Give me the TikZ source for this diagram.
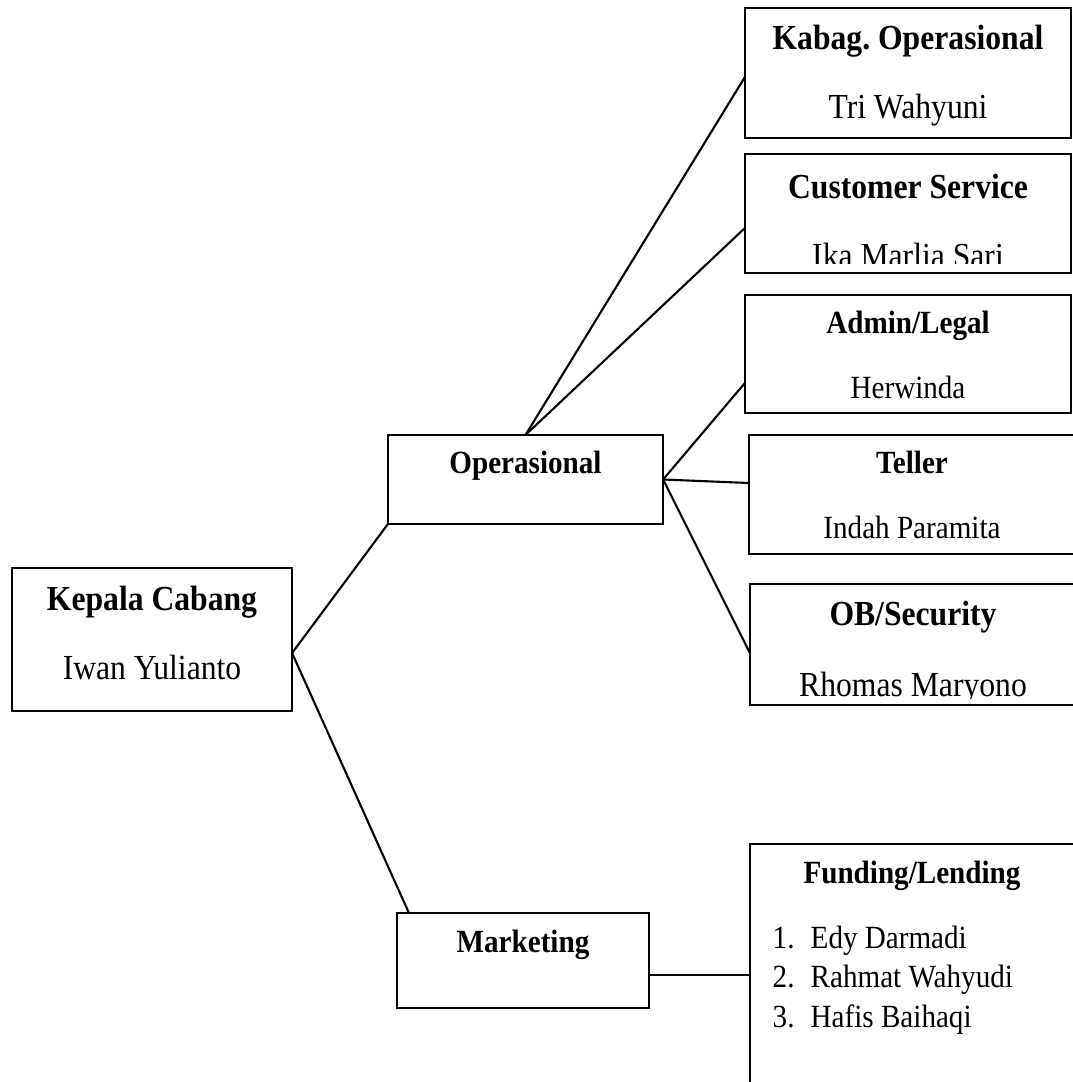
\documentclass[tikz,border=0pt]{standalone}
\usepackage{fontspec}
\setmainfont{Liberation Serif}[FakeStretch=0.9]
\frenchspacing
\begin{document}
\begin{tikzpicture}[x=0.01cm, y=-0.01cm,
  box/.style={draw, line width=0.75pt, rectangle, inner sep=0pt, outer sep=0pt},
  big/.style={font=\fontsize{10}{12}\selectfont\bfseries, anchor=base, inner sep=0pt},
  bigname/.style={font=\fontsize{10}{12}\selectfont, anchor=base, inner sep=0pt},
  small/.style={font=\fontsize{9.2}{11}\selectfont\bfseries, anchor=base, inner sep=0pt},
  smallname/.style={font=\fontsize{9.2}{11}\selectfont, anchor=base, inner sep=0pt},
  link/.style={line width=0.6pt}]
\useasboundingbox (0,0) rectangle (1072,1082);

\node[box, minimum width=3.26cm, minimum height=1.30cm] (kabag) at (908,73) {};
\node[box, minimum width=3.26cm, minimum height=1.19cm] (cs) at (908,213.5) {};
\node[box, minimum width=3.26cm, minimum height=1.18cm] (admin) at (908,354) {};
\node[box, minimum width=3.26cm, minimum height=1.19cm] (teller) at (912,494.5) {};
\node[box, minimum width=3.26cm, minimum height=1.21cm] (ob) at (913,644.5) {};
\node[box, minimum width=2.75cm, minimum height=0.89cm] (op) at (525.5,479.5) {};
\node[box, minimum width=2.80cm, minimum height=1.43cm] (kepala) at (152,639.5) {};
\node[box, minimum width=2.52cm, minimum height=0.95cm] (mkt) at (523,960.5) {};
\node[box, minimum width=3.24cm, minimum height=2.76cm] (fund) at (912,982) {};

\node[big] (kabagT) at (908,50) {Kabag. Operasional};
\node[bigname] (kabagN) at (908,119) {Tri Wahyuni};
\node[big] (csT) at (908,199) {Customer Service};
\begin{scope}
\clip (745,150) rectangle (1071,263);
\node[bigname] (csN) at (908,268) {Ika Marlia Sari};
\end{scope}
\node[small] (adminT) at (908,333) {Admin/Legal};
\node[smallname] (adminN) at (908,398) {Herwinda};
\node[small] (tellerT) at (912,473) {Teller};
\node[smallname] (tellerN) at (912,538) {Indah Paramita};
\node[big] (obT) at (913,625) {OB/Security};
\begin{scope}
\clip (750,650) rectangle (1076,698);
\node[bigname] (obN) at (913,696) {Rhomas Maryono};
\end{scope}
\node[big] (kepalaT) at (152,610) {Kepala Cabang};
\node[bigname] (kepalaN) at (152,679) {Iwan Yulianto};
\node[small] (opT) at (525.5,473) {Operasional};
\node[small] (mktT) at (523,952) {Marketing};
\node[small] (fundT) at (912,883) {Funding/Lending};
\node[smallname, anchor=base west] (n1) at (772,948) {1.};
\node[smallname, anchor=base west] (f1) at (810,948) {Edy Darmadi};
\node[smallname, anchor=base west] (n2) at (772,987) {2.};
\node[smallname, anchor=base west] (f2) at (810,987) {Rahmat Wahyudi};
\node[smallname, anchor=base west] (n3) at (772,1027) {3.};
\node[smallname, anchor=base west] (f3) at (810,1027) {Hafis Baihaqi};

\coordinate (kepalaR) at (kepala.east |- 0,653);
\coordinate (mktIn) at ([xshift=0.12cm]mkt.north west);
\coordinate (kabagIn) at (kabag.west |- 0,77);
\coordinate (csIn) at (cs.west |- 0,228);
\coordinate (adminIn) at (admin.west |- 0,383);
\coordinate (tellerIn) at (teller.west |- 0,483);
\coordinate (obIn) at (ob.west |- 0,653);
\coordinate (mktR) at (mkt.east |- 0,975);
\coordinate (fundIn) at (fund.west |- 0,975);

\draw[link] (kepalaR) -- (op.south west);
\draw[link] (kepalaR) -- (mktIn);
\draw[link] (op.north) -- (kabagIn);
\draw[link] (op.north) -- (csIn);
\draw[link] (op.east) -- (adminIn);
\draw[link] (op.east) -- (tellerIn);
\draw[link] (op.east) -- (obIn);
\draw[link] (mktR) -- (fundIn);
\end{tikzpicture}
\end{document}
